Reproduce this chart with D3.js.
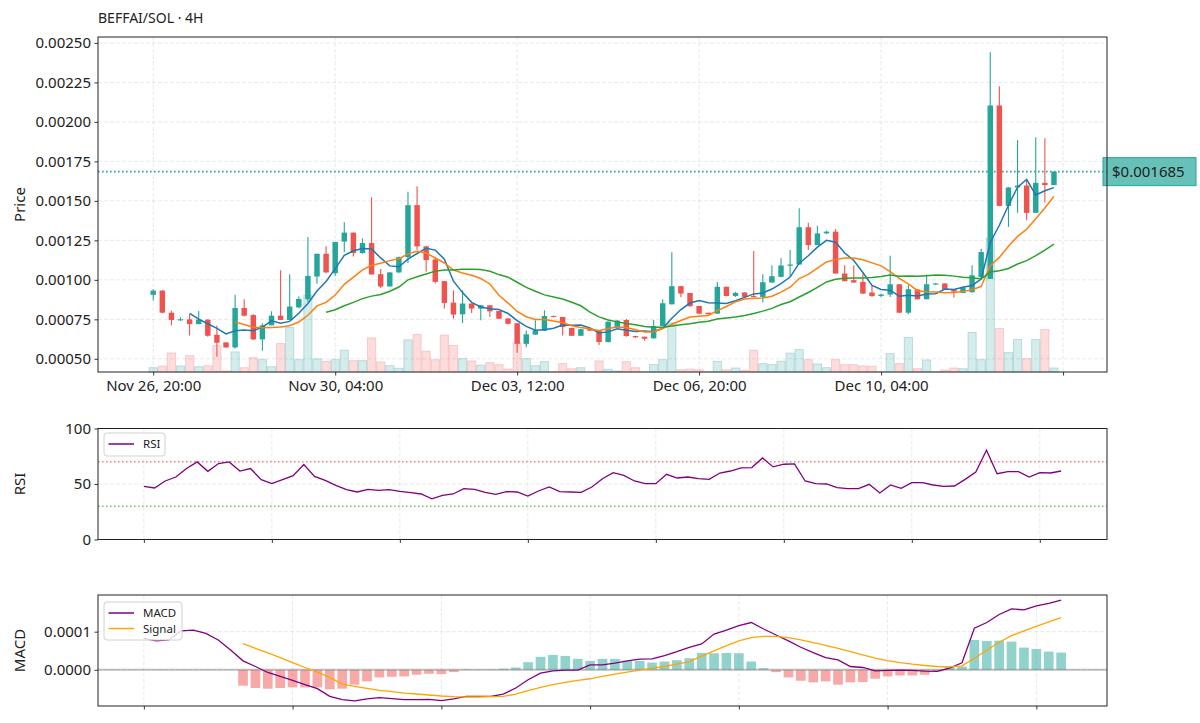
<!DOCTYPE html>
<html>
<head>
<meta charset="utf-8">
<script src="https://cdn.jsdelivr.net/npm/d3@7"></script>
<style>
  body { margin: 0; background: #fff; }
  svg text { font-family: "Noto Sans", "Open Sans", sans-serif; fill: #222; }
</style>
</head>
<body>
<script>

// ---- data (4H candles) ----
var chartTitle = "BEFFAI/SOL · 4H";
var startTime = Date.UTC(2024, 10, 26, 20);   // first candle: Nov 26, 20:00
var xTickLabels = ["Nov 26, 20:00", "Nov 30, 04:00", "Dec 03, 12:00", "Dec 06, 20:00", "Dec 10, 04:00"];
var priceTicks = [0.0005, 0.00075, 0.001, 0.00125, 0.0015, 0.00175, 0.002, 0.00225, 0.0025];

var opens = [
  0.000905, 0.000932, 0.000792, 0.000746, 0.000750, 0.000720, 0.000748, 0.000652, 0.000604, 0.000572,
  0.000822, 0.000777, 0.000623, 0.000712, 0.000773, 0.000746, 0.000826, 0.000877, 0.001021, 0.001165,
  0.001042, 0.001242, 0.001299, 0.001170, 0.001233, 0.001036, 0.000958, 0.001047, 0.001144, 0.001473,
  0.001212, 0.001129, 0.000992, 0.000856, 0.000782, 0.000850, 0.000818, 0.000839, 0.000803, 0.000756,
  0.000725, 0.000595, 0.000653, 0.000678, 0.000771, 0.000765, 0.000695, 0.000646, 0.000690, 0.000682,
  0.000606, 0.000700, 0.000746, 0.000644, 0.000640, 0.000630, 0.000708, 0.000845, 0.000960, 0.000917,
  0.000835, 0.000792, 0.000786, 0.000956, 0.000898, 0.000920, 0.000898, 0.000892, 0.000983, 0.001019,
  0.001089, 0.001097, 0.001333, 0.001220, 0.001294, 0.001305, 0.001040, 0.000998, 0.000987, 0.000920,
  0.000898, 0.000907, 0.000972, 0.000792, 0.000939, 0.000877, 0.000970, 0.000977, 0.000939, 0.000917,
  0.000922, 0.001017, 0.001006, 0.002104, 0.001468, 0.001585, 0.001597, 0.001424, 0.001614, 0.001600
];
var highs = [
  0.000941, 0.000935, 0.000805, 0.000763, 0.000784, 0.000803, 0.000750, 0.000710, 0.000604, 0.000905,
  0.000877, 0.000782, 0.000725, 0.000801, 0.001060, 0.001036, 0.000894, 0.001271, 0.001165, 0.001212,
  0.001240, 0.001364, 0.001299, 0.001263, 0.001523, 0.001068, 0.001050, 0.001148, 0.001557, 0.001593,
  0.001214, 0.001146, 0.000992, 0.000934, 0.000934, 0.000850, 0.000839, 0.000839, 0.000803, 0.000756,
  0.000725, 0.000680, 0.000744, 0.000807, 0.000775, 0.000765, 0.000697, 0.000690, 0.000693, 0.000684,
  0.000738, 0.000746, 0.000752, 0.000646, 0.000640, 0.000746, 0.000877, 0.001174, 0.000962, 0.000917,
  0.000835, 0.000792, 0.000987, 0.000958, 0.000924, 0.000922, 0.001182, 0.001036, 0.001093, 0.001136,
  0.001189, 0.001453, 0.001362, 0.001343, 0.001310, 0.001322, 0.001093, 0.001093, 0.001040, 0.000966,
  0.000913, 0.001153, 0.000974, 0.000966, 0.000941, 0.001034, 0.000979, 0.000979, 0.000941, 0.000958,
  0.001092, 0.001197, 0.002441, 0.002225, 0.001587, 0.001886, 0.001636, 0.001903, 0.001896, 0.001688
];
var lows = [
  0.000869, 0.000788, 0.000712, 0.000739, 0.000648, 0.000718, 0.000640, 0.000513, 0.000570, 0.000566,
  0.000768, 0.000619, 0.000551, 0.000712, 0.000746, 0.000746, 0.000820, 0.000862, 0.000975, 0.001042,
  0.001025, 0.001174, 0.001148, 0.001165, 0.001034, 0.000948, 0.000958, 0.001042, 0.001106, 0.001190,
  0.001051, 0.000977, 0.000818, 0.000754, 0.000727, 0.000790, 0.000744, 0.000765, 0.000750, 0.000718,
  0.000538, 0.000574, 0.000653, 0.000678, 0.000763, 0.000648, 0.000644, 0.000644, 0.000676, 0.000587,
  0.000604, 0.000698, 0.000640, 0.000632, 0.000614, 0.000627, 0.000708, 0.000845, 0.000892, 0.000830,
  0.000784, 0.000780, 0.000786, 0.000896, 0.000892, 0.000890, 0.000890, 0.000856, 0.000983, 0.001015,
  0.001019, 0.001097, 0.001189, 0.001220, 0.001290, 0.001040, 0.000990, 0.000980, 0.000911, 0.000892,
  0.000892, 0.000892, 0.000790, 0.000782, 0.000875, 0.000877, 0.000968, 0.000939, 0.000888, 0.000915,
  0.000918, 0.001010, 0.001006, 0.001466, 0.001335, 0.001424, 0.001377, 0.001424, 0.001490, 0.001600
];
var closes = [
  0.000932, 0.000792, 0.000746, 0.000750, 0.000720, 0.000748, 0.000646, 0.000602, 0.000572, 0.000822,
  0.000773, 0.000623, 0.000712, 0.000773, 0.000746, 0.000831, 0.000879, 0.001025, 0.001165, 0.001047,
  0.001240, 0.001299, 0.001170, 0.001233, 0.001034, 0.000958, 0.001047, 0.001144, 0.001473, 0.001212,
  0.001125, 0.000987, 0.000854, 0.000780, 0.000850, 0.000818, 0.000839, 0.000801, 0.000754, 0.000722,
  0.000595, 0.000655, 0.000680, 0.000771, 0.000765, 0.000701, 0.000646, 0.000688, 0.000678, 0.000606,
  0.000735, 0.000742, 0.000644, 0.000636, 0.000627, 0.000708, 0.000852, 0.000960, 0.000913, 0.000833,
  0.000786, 0.000782, 0.000956, 0.000898, 0.000917, 0.000892, 0.000892, 0.000985, 0.001023, 0.001091,
  0.001097, 0.001333, 0.001220, 0.001294, 0.001305, 0.001040, 0.000992, 0.000983, 0.000913, 0.000898,
  0.000907, 0.000972, 0.000792, 0.000941, 0.000877, 0.000972, 0.000977, 0.000941, 0.000926, 0.000950,
  0.001029, 0.001176, 0.002104, 0.001468, 0.001585, 0.001597, 0.001424, 0.001614, 0.001600, 0.001685
];
var volumes = [
  43, 60, 190, 60, 163, 53, 63, 263, 10, 200,
  43, 143, 123, 53, 283, 443, 123, 767, 130, 107,
  123, 217, 113, 113, 340, 100, 63, 37, 320, 373,
  207, 123, 367, 263, 133, 110, 67, 93, 73, 30,
  290, 133, 63, 103, 3, 83, 33, 43, 3, 110,
  27, 10, 103, 43, 3, 73, 123, 490, 23, 30,
  22, 3, 105, 23, 40, 17, 217, 83, 73, 107,
  187, 223, 123, 80, 43, 123, 73, 73, 60, 57,
  3, 183, 83, 343, 33, 120, 3, 20, 40, 33,
  393, 123, 1333, 433, 193, 323, 133, 323, 423, 40
];
var lastPrice = 0.001685;

var maPeriods = [5, 10, 20];
var maColors = ["#1f77b4", "#ff7f0e", "#2ca02c"];

// RSI starts at candle 13
var rsiStart = 13;
var rsiValues = [
  47.9, 46.4, 52.7, 56.3, 63.9, 69.9, 61.4, 68.4, 69.9, 61.7, 63.9, 53.9, 50.3, 53.9, 57.5,
  67.5, 56.9, 53.3, 48.8, 44.9, 42.8, 45.2, 44.3, 44.9, 43.4, 42.2, 41.0, 36.7, 39.8, 41.0,
  45.8, 45.2, 42.5, 40.7, 43.1, 42.8, 39.2, 43.7, 47.3, 43.1, 42.8, 42.5, 47.3,
  54.8, 60.2, 57.8, 52.7, 50.3, 50.3, 58.7, 55.4, 56.3, 54.8, 54.2, 59.9, 61.7, 64.5, 64.8,
  73.5, 65.4, 67.8, 68.1, 52.7, 50.3, 50.0, 46.7, 45.8, 45.8, 49.7, 41.9, 49.1, 46.1, 51.2,
  51.2, 49.1, 47.9, 48.2, 54.2, 60.8, 80.4, 59.3, 61.1, 61.1, 56.3, 60.2, 59.9, 61.7
];

// MACD starts at candle 25, signal and histogram at candle 33
var macdStart = 25;
var macdValues = [
  0.0000826, 0.0000757, 0.0000783, 0.000102, 0.000104, 0.0000957, 0.0000783, 0.0000522, 0.0000235, 0.0000087,
  -0.000007, -0.0000174, -0.0000278, -0.0000391, -0.0000496, -0.0000696, -0.0000783, -0.0000817, -0.0000765, -0.000073,
  -0.0000757, -0.0000783, -0.0000783, -0.0000774, -0.0000809, -0.0000765, -0.0000696, -0.0000696, -0.0000696, -0.0000635,
  -0.0000478, -0.0000261, -0.0000087, -0.0000026, -0.0000009, -0.0000009, 0.000013,
  0.000013, 0.0000174, 0.0000235, 0.0000278, 0.0000287, 0.0000374, 0.0000478, 0.0000591, 0.0000678, 0.0000939,
  0.000104, 0.000116, 0.000124, 0.000107, 0.0000913, 0.0000757, 0.0000591, 0.0000452, 0.0000322, 0.0000261,
  0.0000087, 0.0000061, -0.0000026, -0.0000017, -0.0000009, -0.0000017, -0.0000035, -0.0000043, 0.0000043, 0.0000183,
  0.000109, 0.000124, 0.000145, 0.00016, 0.000157, 0.000168, 0.000174, 0.000183
];
var signalStart = 33;
var signalValues = [
  0.0000687, 0.0000565, 0.0000443, 0.0000322, 0.0000191, 0.0000061, -0.0000061, -0.00002, -0.0000374, -0.0000435,
  -0.0000487, -0.0000539, -0.0000574, -0.0000609, -0.0000635, -0.0000661, -0.0000687, -0.0000704, -0.0000713, -0.0000713,
  -0.0000704, -0.0000696, -0.0000635, -0.0000548, -0.0000461, -0.0000391, -0.000033, -0.0000278, -0.0000235,
  -0.0000174, -0.0000113, -0.0000061, -0.0000009, 0.0000043, 0.0000087, 0.0000148, 0.0000217, 0.0000357, 0.0000496,
  0.0000635, 0.0000757, 0.0000843, 0.0000878, 0.0000878, 0.0000843, 0.0000783, 0.0000713, 0.0000643, 0.0000565,
  0.0000478, 0.0000391, 0.0000304, 0.0000243, 0.0000191, 0.0000148, 0.0000113, 0.0000087, 0.0000078, 0.0000104,
  0.0000304, 0.0000513, 0.0000722, 0.0000896, 0.000102, 0.000114, 0.000126, 0.000137
];
var histValues = [
  -0.0000417, -0.0000478, -0.0000496, -0.0000478, -0.0000461, -0.0000461, -0.0000461, -0.0000513, -0.0000496, -0.0000391,
  -0.0000304, -0.00002, -0.0000183, -0.0000174, -0.000013, -0.0000104, -0.0000113, -0.0000061,
  0.0000015, 0.000001, 0.000001, 0.000003, 0.0000061, 0.00002, 0.0000339, 0.0000391, 0.0000365, 0.0000287, 0.0000235,
  0.0000287, 0.0000287, 0.0000235, 0.0000235, 0.0000191, 0.0000217, 0.0000252, 0.0000304, 0.0000443, 0.0000435,
  0.0000443, 0.0000435, 0.0000217, 0.0000043, -0.0000061, -0.00002, -0.0000287, -0.000033, -0.0000304, -0.0000391,
  -0.000033, -0.0000322, -0.0000235, -0.0000174, -0.0000148, -0.0000148, -0.000013, -0.0000043, 0.0000087, 0.0000087,
  0.0000783, 0.0000757, 0.0000765, 0.0000739, 0.0000583, 0.0000548, 0.0000478, 0.0000452
];

// ---- layout ----
var width = 1200, height = 723;
var left = 98, right = 1107;
var pricePanel = {top: 37, bottom: 372},
    rsiPanel = {top: 428.5, bottom: 539.5},
    macdPanel = {top: 595, bottom: 706};

var UP = "#26a69a", DOWN = "#ef5350";
var FOUR_H = 4 * 3600 * 1000;

function timeOf(i) { return new Date(startTime + i * FOUR_H); }

// matplotlib-like 5% padding
function padded(lo, hi, frac) {
    var m = (hi - lo) * frac;
    return [lo - m, hi + m];
}

var svg = d3.select("body")
    .append("svg")
    .attr("width", width)
    .attr("height", height);

svg.append("rect").attr("width", width).attr("height", height).attr("fill", "#fff");

var candles = d3.range(closes.length).map(function(i) {
    return {i: i, o: opens[i], h: highs[i], l: lows[i], c: closes[i], v: volumes[i]};
});

// ---- scales ----
var x = d3.scaleLinear().domain([-6.07, 104.83]).range([left, right]);
var y = d3.scaleLinear()
    .domain(padded(d3.min(lows), d3.max(highs), 0.05))
    .range([pricePanel.bottom, pricePanel.top]);
var yVol = d3.scaleLinear()
    .domain([0, d3.max(volumes) * 2.5])
    .range([pricePanel.bottom, pricePanel.top]);

var rsiEnd = rsiStart + rsiValues.length - 1;
var xRsi = d3.scaleUtc()
    .domain(padded(+timeOf(rsiStart), +timeOf(rsiEnd), 0.05))
    .range([left, right]);
var yRsi = d3.scaleLinear().domain([0, 100]).range([rsiPanel.bottom, rsiPanel.top]);

var macdEnd = macdStart + macdValues.length - 1;
var xMacd = d3.scaleUtc()
    .domain(padded(+timeOf(macdStart), +timeOf(macdEnd), 0.05))
    .range([left, right]);
var macdAll = macdValues.concat(signalValues, histValues);
var yMacd = d3.scaleLinear()
    .domain(padded(d3.min(macdAll), d3.max(macdAll), 0.05))
    .range([macdPanel.bottom, macdPanel.top]);

// ---- helpers ----
function gridLines(g, xs, ys, p) {
    var grid = g.append("g")
        .attr("stroke", "#b0b0b0")
        .attr("stroke-opacity", 0.35)
        .attr("stroke-width", 0.8)
        .attr("stroke-dasharray", "4,2");
    grid.selectAll(".gx").data(xs.ticks).enter().append("line")
        .attr("x1", xs.f).attr("x2", xs.f)
        .attr("y1", p.top).attr("y2", p.bottom);
    grid.selectAll(".gy").data(ys.ticks).enter().append("line")
        .attr("x1", left).attr("x2", right)
        .attr("y1", ys.f).attr("y2", ys.f);
}

function styleAxis(g) {
    g.select(".domain").remove();
    g.attr("font-family", null).attr("font-size", null);
    g.selectAll("text").style("font-size", "15px");
    g.selectAll("line").attr("stroke", "#222").attr("stroke-width", 0.9);
}

function frame(p) {
    svg.append("rect")
        .attr("x", left).attr("y", p.top)
        .attr("width", right - left).attr("height", p.bottom - p.top)
        .attr("fill", "none").attr("stroke", "#222").attr("stroke-width", 1);
}

function yLabel(text, p) {
    svg.append("text")
        .attr("transform", "translate(25," + (p.top + p.bottom) / 2 + ") rotate(-90)")
        .attr("text-anchor", "middle")
        .style("font-size", "15px")
        .text(text);
}

function legend(items, top) {
    var g = svg.append("g");
    g.append("rect")
        .attr("x", 104).attr("y", top)
        .attr("width", items[0].w).attr("height", 8 + items.length * 15)
        .attr("rx", 3)
        .attr("fill", "#fff").attr("fill-opacity", 0.8)
        .attr("stroke", "#d0d0d0");
    items.forEach(function(it, k) {
        var ly = top + 11 + k * 15.5;
        g.append("line")
            .attr("x1", 108.5).attr("x2", 134).attr("y1", ly).attr("y2", ly)
            .attr("stroke", it.color).attr("stroke-width", 1.5);
        g.append("text")
            .attr("x", 143).attr("y", ly + 4)
            .style("font-size", "11.5px")
            .text(it.label);
    });
}

// ---- price panel ----
var priceXTicks = [0, 20, 40, 60, 80, 100];
var pg = svg.append("g");
gridLines(pg, {ticks: priceXTicks, f: function(d) { return x(d); }},
              {ticks: priceTicks, f: function(d) { return y(d); }}, pricePanel);

// volume bars on a hidden axis
var barW = (x(1) - x(0)) * 0.9;
pg.selectAll(".vol").data(candles).enter().append("rect")
    .attr("class", "vol")
    .attr("x", function(d) { return x(d.i) - barW / 2; })
    .attr("y", function(d) { return yVol(d.v); })
    .attr("width", barW)
    .attr("height", function(d) { return yVol(0) - yVol(d.v); })
    .attr("fill", function(d) { return d.c >= d.o ? UP : DOWN; })
    .attr("fill-opacity", 0.2)
    .attr("stroke", function(d) { return d.c >= d.o ? "#5fa8b8" : "#e88a96"; })
    .attr("stroke-opacity", 0.35)
    .attr("stroke-width", 1);

// current price line
pg.append("line")
    .attr("x1", left).attr("x2", right)
    .attr("y1", y(lastPrice)).attr("y2", y(lastPrice))
    .attr("stroke", UP).attr("stroke-width", 1.6)
    .attr("stroke-dasharray", "1.6,2.4");

// candles
var bodyW = (x(1) - x(0)) * 0.6;
var candle = pg.selectAll(".candle").data(candles).enter().append("g")
    .attr("class", "candle")
    .attr("fill", function(d) { return d.c >= d.o ? UP : DOWN; })
    .attr("stroke", function(d) { return d.c >= d.o ? UP : DOWN; });
candle.append("line")
    .attr("x1", function(d) { return x(d.i); })
    .attr("x2", function(d) { return x(d.i); })
    .attr("y1", function(d) { return y(d.h); })
    .attr("y2", function(d) { return y(d.l); })
    .attr("stroke-width", 1.1);
candle.append("rect")
    .attr("x", function(d) { return x(d.i) - bodyW / 2; })
    .attr("y", function(d) { return y(Math.max(d.o, d.c)); })
    .attr("width", bodyW)
    .attr("height", function(d) { return Math.max(1, Math.abs(y(d.o) - y(d.c))); })
    .attr("stroke", "none");

// moving averages of the closes
maPeriods.forEach(function(n, k) {
    var pts = d3.range(n - 1, closes.length).map(function(i) {
        return [i, d3.mean(closes.slice(i - n + 1, i + 1))];
    });
    pg.append("path")
        .datum(pts)
        .attr("fill", "none")
        .attr("stroke", maColors[k])
        .attr("stroke-width", 1.5)
        .attr("d", d3.line().x(function(d) { return x(d[0]); }).y(function(d) { return y(d[1]); }));
});

// price tag
var tag = svg.append("g");
tag.append("rect")
    .attr("x", right - 4).attr("y", y(lastPrice) - 14)
    .attr("width", 93).attr("height", 28)
    .attr("fill", UP).attr("fill-opacity", 0.7)
    .attr("stroke", UP).attr("stroke-width", 1);
tag.append("text")
    .attr("x", right + 5).attr("y", y(lastPrice) + 5.5)
    .style("font-size", "15px")
    .text("$" + lastPrice.toFixed(6));

frame(pricePanel);

var axP = svg.append("g").attr("transform", "translate(" + left + ",0)")
    .call(d3.axisLeft(y).tickValues(priceTicks).tickFormat(d3.format(".5f"))
        .tickSize(3.5).tickPadding(3.5).tickSizeOuter(0));
styleAxis(axP);
var axPx = svg.append("g").attr("transform", "translate(0," + pricePanel.bottom + ")")
    .call(d3.axisBottom(x).tickValues(priceXTicks)
        .tickFormat(function(d, i) { return xTickLabels[i] || ""; })
        .tickSize(3.5).tickPadding(5).tickSizeOuter(0));
styleAxis(axPx);

svg.append("text")
    .attr("x", left).attr("y", 23)
    .style("font-size", "14px")
    .text(chartTitle);
yLabel("Price", pricePanel);

// ---- RSI panel ----
var rsiTicks = xRsi.ticks(d3.utcDay.every(2));
var rg = svg.append("g");
gridLines(rg, {ticks: rsiTicks, f: function(d) { return xRsi(d); }},
              {ticks: [0, 50, 100], f: function(d) { return yRsi(d); }}, rsiPanel);
[[70, "#ff3030"], [30, "#20a020"]].forEach(function(h) {
    rg.append("line")
        .attr("x1", left).attr("x2", right)
        .attr("y1", yRsi(h[0])).attr("y2", yRsi(h[0]))
        .attr("stroke", h[1]).attr("stroke-opacity", 0.6)
        .attr("stroke-width", 1.6).attr("stroke-dasharray", "1.6,2.4");
});
rg.append("path")
    .datum(rsiValues)
    .attr("fill", "none")
    .attr("stroke", "#800080")
    .attr("stroke-width", 1.3)
    .attr("d", d3.line()
        .x(function(d, k) { return xRsi(timeOf(rsiStart + k)); })
        .y(function(d) { return yRsi(d); }));
frame(rsiPanel);
var axR = svg.append("g").attr("transform", "translate(" + left + ",0)")
    .call(d3.axisLeft(yRsi).tickValues([0, 50, 100]).tickSize(3.5).tickPadding(3.5).tickSizeOuter(0));
styleAxis(axR);
var axRx = svg.append("g").attr("transform", "translate(0," + rsiPanel.bottom + ")")
    .call(d3.axisBottom(xRsi).tickValues(rsiTicks).tickFormat("").tickSize(3.5).tickSizeOuter(0));
styleAxis(axRx);
legend([{label: "RSI", color: "#800080", w: 61}], 433);
yLabel("RSI", rsiPanel);

// ---- MACD panel ----
var macdTicks = xMacd.ticks(d3.utcDay.every(2));
var macdYTicks = [0, 0.0001];
var mg = svg.append("g");
gridLines(mg, {ticks: macdTicks, f: function(d) { return xMacd(d); }},
              {ticks: macdYTicks, f: function(d) { return yMacd(d); }}, macdPanel);

var histW = (xMacd(timeOf(1)) - xMacd(timeOf(0))) * 0.78;
mg.selectAll(".hist").data(histValues).enter().append("rect")
    .attr("class", "hist")
    .attr("x", function(d, k) { return xMacd(timeOf(signalStart + k)) - histW / 2; })
    .attr("y", function(d) { return yMacd(Math.max(0, d)); })
    .attr("width", histW)
    .attr("height", function(d) { return Math.abs(yMacd(d) - yMacd(0)); })
    .attr("fill", function(d) { return d >= 0 ? UP : DOWN; })
    .attr("fill-opacity", 0.5);

mg.append("line")
    .attr("x1", left).attr("x2", right)
    .attr("y1", yMacd(0)).attr("y2", yMacd(0))
    .attr("stroke", "#808080").attr("stroke-opacity", 0.5).attr("stroke-width", 2);

mg.append("path")
    .datum(macdValues)
    .attr("fill", "none").attr("stroke", "#800080").attr("stroke-width", 1.3)
    .attr("d", d3.line()
        .x(function(d, k) { return xMacd(timeOf(macdStart + k)); })
        .y(function(d) { return yMacd(d); }));
mg.append("path")
    .datum(signalValues)
    .attr("fill", "none").attr("stroke", "#ffa500").attr("stroke-width", 1.3)
    .attr("d", d3.line()
        .x(function(d, k) { return xMacd(timeOf(signalStart + k)); })
        .y(function(d) { return yMacd(d); }));
frame(macdPanel);
var axM = svg.append("g").attr("transform", "translate(" + left + ",0)")
    .call(d3.axisLeft(yMacd).tickValues(macdYTicks).tickFormat(d3.format(".4f"))
        .tickSize(3.5).tickPadding(3.5).tickSizeOuter(0));
styleAxis(axM);
var axMx = svg.append("g").attr("transform", "translate(0," + macdPanel.bottom + ")")
    .call(d3.axisBottom(xMacd).tickValues(macdTicks).tickFormat("").tickSize(3.5).tickSizeOuter(0));
styleAxis(axMx);
legend([{label: "MACD", color: "#800080", w: 78}, {label: "Signal", color: "#ffa500"}], 602);
yLabel("MACD", macdPanel);

</script>
</body>
</html>
